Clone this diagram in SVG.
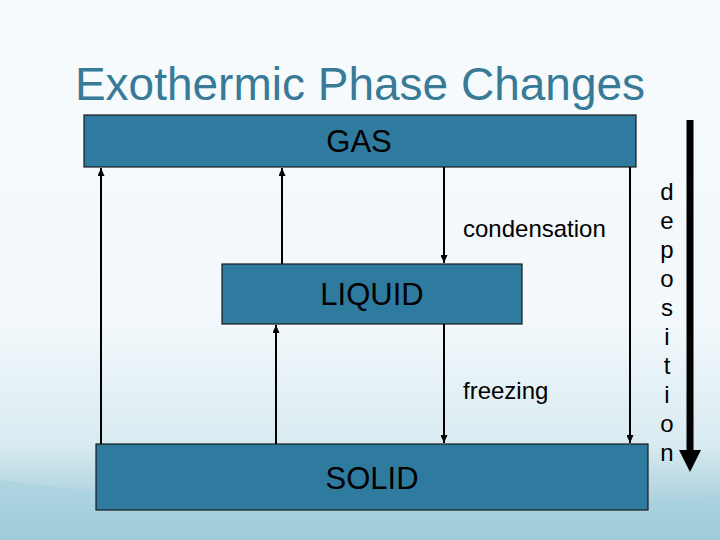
<svg xmlns="http://www.w3.org/2000/svg" width="720" height="540" viewBox="0 0 720 540">
<defs>
<linearGradient id="bg" x1="0" y1="0" x2="0" y2="1">
<stop offset="0" stop-color="#f7fbfd"/>
<stop offset="0.6" stop-color="#f2f8fb"/>
<stop offset="0.82" stop-color="#d9ebf1"/>
<stop offset="1" stop-color="#8fc1d2"/>
</linearGradient>
<marker id="ah" markerWidth="8" markerHeight="7" refX="8" refY="3.5" orient="auto" markerUnits="userSpaceOnUse" viewBox="0 0 8 7">
<path d="M0,0 L8,3.5 L0,7 Z" fill="#000"/>
</marker>
<style>
.box{fill:#2e7b9f;stroke:#1a1a1a;stroke-width:1.2}
.lbl{font-family:"Liberation Sans",Arial,sans-serif;fill:#000}
.big{font-size:31px}
.small{font-size:24px}
.conn line{stroke:#000;stroke-width:2}
</style>
</defs>
<rect width="720" height="540" fill="url(#bg)"/>
<path d="M0,480 C150,500 320,505 480,510 C580,512 660,505 720,495 L720,540 L0,540 Z" fill="#a9d2df" opacity="0.6"/>
<text x="360" y="100" text-anchor="middle" font-family="Liberation Sans,Arial,sans-serif" font-size="46" fill="#387a97">Exothermic Phase Changes</text>
<g id="gas"><rect class="box" x="84" y="115" width="552" height="52"/><text class="lbl big" x="359" y="152" text-anchor="middle">GAS</text></g>
<g id="liquid"><rect class="box" x="222" y="264" width="300" height="60"/><text class="lbl big" x="372" y="305" text-anchor="middle">LIQUID</text></g>
<g id="solid"><rect class="box" x="96" y="444" width="552" height="66"/><text class="lbl big" x="372" y="489" text-anchor="middle">SOLID</text></g>
<g class="conn" id="connectors">
<line x1="101" y1="444" x2="101" y2="168" marker-end="url(#ah)"/>
<line x1="282" y1="264" x2="282" y2="168" marker-end="url(#ah)"/>
<line x1="444" y1="167" x2="444" y2="263" marker-end="url(#ah)"/>
<line x1="276" y1="444" x2="276" y2="325" marker-end="url(#ah)"/>
<line x1="444" y1="324" x2="444" y2="443" marker-end="url(#ah)"/>
<line x1="630" y1="167" x2="630" y2="443" marker-end="url(#ah)"/>
</g>
<text class="lbl small" x="463" y="237">condensation</text>
<text class="lbl small" x="463" y="399">freezing</text>
<g id="deposition">
<line x1="690" y1="120" x2="690" y2="452" stroke="#000" stroke-width="7"/>
<path d="M679,450 L701,450 L690,472 Z" fill="#000"/>
<g class="lbl small" text-anchor="middle">
<text x="667" y="200">d</text>
<text x="667" y="229">e</text>
<text x="667" y="258">p</text>
<text x="667" y="287">o</text>
<text x="667" y="316">s</text>
<text x="667" y="345">i</text>
<text x="667" y="374">t</text>
<text x="667" y="403">i</text>
<text x="667" y="432">o</text>
<text x="667" y="461">n</text>
</g>
</g>
</svg>
